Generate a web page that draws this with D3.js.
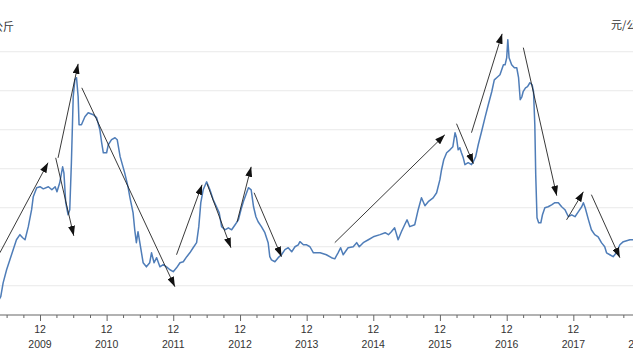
<!DOCTYPE html>
<html><head><meta charset="utf-8">
<script src="https://cdn.jsdelivr.net/npm/d3@7"></script>
<style>
html,body{margin:0;padding:0;background:#fff;overflow:hidden;}
svg{display:block;}
text{font-family:"Liberation Sans","DejaVu Sans",Arial,sans-serif;}
</style></head>
<body>
<svg id="chart" width="633" height="361"></svg>
<script>
// ---- data ----
const dates = [
"2009-04-15","2009-04-30","2009-05-13","2009-06-01","2009-06-19","2009-07-07","2009-07-25","2009-08-13","2009-08-28","2009-09-10","2009-09-28","2009-10-16","2009-10-25","2009-11-13","2009-12-01","2009-12-19",
"2010-01-16","2010-02-04","2010-02-22","2010-03-04","2010-03-19","2010-04-04","2010-04-11","2010-04-21","2010-05-04","2010-05-13","2010-05-22","2010-06-01","2010-06-10","2010-06-19","2010-06-28","2010-07-03","2010-07-16","2010-08-04","2010-08-22","2010-09-19","2010-10-07","2010-10-25","2010-11-04","2010-11-13","2010-12-01","2010-12-10","2010-12-28",
"2011-01-16","2011-01-28","2011-02-13","2011-03-10","2011-03-28","2011-04-07","2011-04-25","2011-05-04","2011-05-13","2011-05-22","2011-06-01","2011-06-19","2011-07-07","2011-07-25","2011-08-04","2011-08-18","2011-09-01","2011-09-19","2011-10-07","2011-10-25","2011-11-13","2011-12-01","2011-12-19",
"2012-01-07","2012-01-25","2012-02-13","2012-03-01","2012-03-19","2012-04-07","2012-04-19","2012-04-30","2012-05-13","2012-06-01","2012-06-19","2012-07-07","2012-07-25","2012-08-09","2012-08-22","2012-09-10","2012-09-28","2012-10-16","2012-11-04","2012-11-22","2012-12-06","2012-12-19",
"2013-01-02","2013-01-16","2013-01-31","2013-02-13","2013-02-26","2013-03-10","2013-03-28","2013-04-16","2013-05-04","2013-05-13","2013-05-22","2013-06-10","2013-06-28","2013-07-16","2013-08-04","2013-08-22","2013-09-10","2013-09-28","2013-10-16","2013-10-25","2013-11-13","2013-12-01","2013-12-19",
"2014-01-07","2014-02-13","2014-03-19","2014-04-16","2014-05-04","2014-05-22","2014-06-05","2014-06-19","2014-07-16","2014-08-13","2014-09-01","2014-09-15","2014-10-07","2014-11-04","2014-12-01",
"2015-01-07","2015-02-04","2015-02-22","2015-03-10","2015-03-28","2015-04-16","2015-05-04","2015-05-22","2015-06-04","2015-06-19","2015-07-16","2015-08-04","2015-08-22","2015-09-10","2015-09-28","2015-10-25","2015-11-13","2015-12-01","2015-12-10","2015-12-22",
"2016-01-07","2016-01-25","2016-02-10","2016-02-22","2016-03-01","2016-03-10","2016-03-19","2016-03-28","2016-04-07","2016-04-16","2016-05-04","2016-05-22","2016-06-01","2016-06-14","2016-06-28","2016-07-16","2016-08-04","2016-08-22","2016-09-10","2016-09-24","2016-10-07","2016-10-25","2016-11-13","2016-11-22","2016-12-01","2016-12-07","2016-12-14","2016-12-28",
"2017-01-12","2017-01-25","2017-02-04","2017-02-13","2017-02-22","2017-03-01","2017-03-14","2017-03-25","2017-04-07","2017-04-19","2017-04-27","2017-05-04","2017-05-09","2017-05-16","2017-05-25","2017-06-06","2017-06-15","2017-06-28","2017-07-16","2017-08-04","2017-08-22","2017-09-10","2017-09-28","2017-10-16","2017-11-04","2017-11-22","2017-12-10","2017-12-28",
"2018-01-16","2018-01-25","2018-02-04","2018-02-22","2018-03-10","2018-03-28","2018-04-16","2018-05-04","2018-05-22","2018-06-01","2018-06-19","2018-07-07","2018-07-25","2018-08-13","2018-09-01","2018-09-19","2018-10-07","2018-10-28"
];
const prices = [
1.2,1.44,2.15,2.82,3.33,3.85,4.36,4.62,4.46,4.36,5.03,5.90,6.56,7.03,7.08,6.97,
7.08,6.92,7.08,6.82,7.28,8.10,7.79,6.26,5.64,5.90,8.31,11.69,12.56,12.67,11.69,10.26,10.26,10.67,10.87,10.77,10.62,10.0,9.33,8.82,8.82,9.23,9.49,
9.59,9.49,8.62,7.79,7.08,6.56,5.74,4.87,4.21,4.77,4.21,3.18,2.97,3.18,3.69,3.18,3.44,2.97,3.08,2.97,2.82,2.72,2.92,
3.18,3.23,3.49,3.69,3.95,4.21,5.03,6.26,6.92,7.33,6.92,6.41,6.05,5.74,5.03,4.87,4.97,4.87,5.13,5.38,5.90,6.31,
6.67,7.03,6.92,6.05,5.54,5.28,5.03,4.72,4.21,3.49,3.33,3.23,3.44,3.59,3.85,3.95,3.74,4.0,4.10,4.26,4.10,4.10,4.0,
3.69,3.69,3.59,3.44,3.38,3.69,3.95,3.59,3.95,4.0,4.21,4.0,4.21,4.36,4.51,
4.62,4.72,4.62,4.77,4.97,4.36,4.77,5.13,5.38,5.03,5.13,5.90,6.51,6.10,6.31,6.51,6.77,7.44,7.95,8.46,
8.82,8.97,9.13,9.85,9.59,8.97,9.08,8.82,8.56,8.21,8.31,8.21,8.36,8.62,9.23,9.90,10.62,11.28,11.95,12.56,12.67,12.82,13.33,13.33,13.69,14.62,13.69,13.33,
13.18,13.18,12.67,11.54,11.69,11.95,12.15,12.21,12.41,12.31,11.95,10.26,7.69,5.49,5.23,5.23,5.64,6.0,6.05,6.15,6.26,6.26,6.05,5.90,5.54,5.64,5.54,5.79,
6.05,6.26,6.0,5.38,4.87,4.62,4.51,4.21,4.0,3.69,3.59,3.49,3.69,4.10,4.26,4.31,4.36,4.36
];
// trend arrows: start date/value -> end date/value
const arrowStartDates = ["2009-04-25","2010-02-25","2010-03-10","2010-07-18","2011-12-19","2012-06-03","2012-11-15","2013-02-16","2014-05-04","2016-03-01","2016-05-22","2017-03-02","2017-10-25","2018-03-10"];
const arrowStartValues = [3.69,8.56,8.56,12.15,3.59,7.23,5.28,6.77,4.21,10.31,9.85,14.21,5.38,6.67];
const arrowEndDates = ["2010-01-14","2010-06-04","2010-06-28","2011-12-10","2012-05-07","2012-10-12","2013-01-31","2013-07-16","2015-12-28","2016-06-01","2016-11-06","2017-09-01","2018-01-25","2018-08-13"];
const arrowEndValues = [8.31,4.56,13.38,1.95,7.18,3.95,8.10,3.49,9.74,8.26,14.92,6.62,6.82,3.44];
const gridValues = [2,4,6,8,10,12,14];
const unitLabel = "元/公斤";

// ---- chart ----
const parse = d3.timeParse("%Y-%m-%d");
const series = dates.map((d,i)=>({date:parse(d), value:prices[i]}));
const svg = d3.select("#chart");
const W = 633, H = 361;

const x = d3.scaleTime()
  .domain([new Date(2009,11,1), new Date(2017,11,1)])
  .range([40, 573.33]);
const y = d3.scaleLinear().domain([0.5, 16]).range([315, 12.75]);

// gridlines
svg.append("g").selectAll("line").data(gridValues).join("line")
  .attr("x1",0).attr("x2",W)
  .attr("y1",d=>y(d)).attr("y2",d=>y(d))
  .attr("stroke","#e9e9e9").attr("stroke-width",1.2);

// unit labels (cropped at edges)
svg.append("text").attr("x",14).attr("y",31).attr("text-anchor","end")
  .attr("font-size",11).attr("fill","#333")
  .style("font-family","'Noto Sans CJK SC',sans-serif").text(unitLabel);
svg.append("text").attr("x",611).attr("y",29).attr("text-anchor","start")
  .attr("font-size",11).attr("fill","#333")
  .style("font-family","'Noto Sans CJK SC',sans-serif").text(unitLabel);

// x axis
const tickDates = d3.timeMonth.range(x.invert(-20), x.invert(W+20)).filter(d=>d.getMonth()%3===2);
const axis = d3.axisBottom(x).tickValues(tickDates).tickSizeOuter(0)
  .tickSize(3).tickFormat(()=> "");
const gx = svg.append("g").attr("transform",`translate(0,${y(0.5)})`).call(axis);
gx.select(".domain").attr("d",`M0,0H${W}`).attr("stroke","#666").attr("stroke-width",1.2);
gx.selectAll(".tick line").attr("stroke","#666")
  .attr("y2",d=>d.getMonth()===11?6:3);
const majors = tickDates.filter(d=>d.getMonth()===11);
const lab = svg.append("g").attr("font-size",10.5).attr("fill","#333").attr("text-anchor","middle");
lab.selectAll("text.m").data(majors).join("text").attr("class","m")
  .attr("x",d=>x(d)).attr("y",333).text("12");
lab.selectAll("text.yr").data(majors).join("text").attr("class","yr")
  .attr("x",d=>x(d)).attr("y",348).text(d=>d.getFullYear());

// price line
svg.append("path").datum(series)
  .attr("fill","none").attr("stroke","#4f7db8").attr("stroke-width",1.5)
  .attr("stroke-linejoin","round")
  .attr("d", d3.line().x(d=>x(d.date)).y(d=>y(d.value)));

// arrows
const defs = svg.append("defs");
defs.append("marker").attr("id","ah").attr("viewBox","0 0 10 7")
  .attr("refX",10).attr("refY",3.5).attr("markerWidth",10).attr("markerHeight",7)
  .attr("markerUnits","userSpaceOnUse").attr("orient","auto")
  .append("path").attr("d","M0,0L10,3.5L0,7Z").attr("fill","#111");
const arrows = arrowStartDates.map((d,i)=>({
  x1:x(parse(d)), y1:y(arrowStartValues[i]),
  x2:x(parse(arrowEndDates[i])), y2:y(arrowEndValues[i])}));
svg.append("g").selectAll("line").data(arrows).join("line")
  .attr("x1",d=>d.x1).attr("y1",d=>d.y1).attr("x2",d=>d.x2).attr("y2",d=>d.y2)
  .attr("stroke","#222").attr("stroke-width",0.9).attr("marker-end","url(#ah)");
</script>
</body></html>
